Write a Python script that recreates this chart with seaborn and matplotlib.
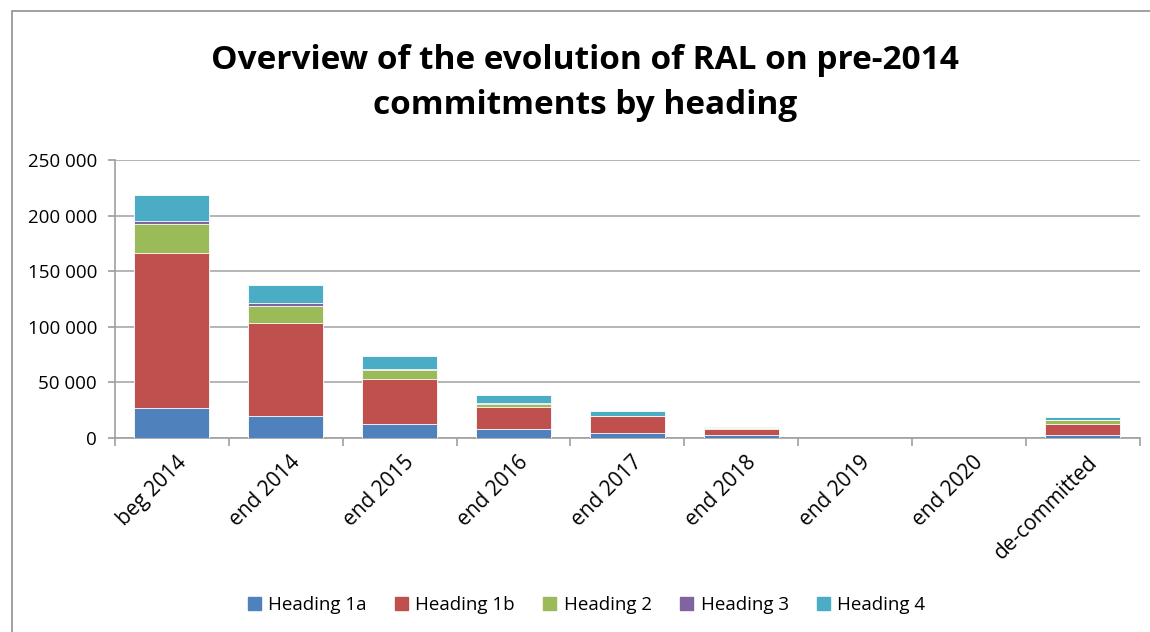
import matplotlib
matplotlib.use("Agg")
import matplotlib.pyplot as plt
import seaborn as sns
import pandas as pd
import numpy as np
from matplotlib.patches import Rectangle
from matplotlib.ticker import FuncFormatter, FixedLocator

categories = ["beg 2014", "end 2014", "end 2015", "end 2016", "end 2017",
              "end 2018", "end 2019", "end 2020", "de-committed"]
heading_1a = [27300, 19800, 12600, 7800, 4100, 2300, 0, 0, 2500]
heading_1b = [138700, 83500, 40200, 19800, 15400, 5800, 0, 0, 10500]
heading_2 = [26500, 15600, 8100, 3000, 500, 500, 0, 0, 3000]
heading_3 = [3000, 2100, 900, 400, 200, 100, 0, 0, 300]
heading_4 = [23100, 16800, 12300, 7400, 4100, 1500, 0, 0, 2500]

series_names = ["Heading 1a", "Heading 1b", "Heading 2", "Heading 3", "Heading 4"]
series_vals = [heading_1a, heading_1b, heading_2, heading_3, heading_4]
colors = ["#4F81BD", "#C0504D", "#9BBB59", "#8064A2", "#4BACC6"]

sns.set_theme(style="white")
plt.rcParams["font.family"] = ["Open Sans", "DejaVu Sans"]
plt.rcParams["text.color"] = "black"
plt.rcParams["xtick.color"] = "black"
plt.rcParams["ytick.color"] = "black"

fig = plt.figure(figsize=(11.5, 6.32), dpi=100)
ax = fig.add_axes([0.1, 0.307, 0.891, 0.44])

cum = np.cumsum(np.array(series_vals, dtype=float), axis=0)
cum[cum == 0] = np.nan
for i in range(len(series_names) - 1, -1, -1):
    df = pd.DataFrame({"cat": categories, "val": cum[i]})
    sns.barplot(data=df, x="cat", y="val", order=categories, color=colors[i],
                saturation=1, width=0.66, edgecolor="white", linewidth=0.6,
                ax=ax, zorder=3)

ax.set_xlim(-0.5, 8.5)
ax.set_ylim(0, 250000)
ax.set_yticks(np.arange(0, 250001, 50000))
ax.yaxis.set_major_formatter(FuncFormatter(lambda v, p: f"{int(v):,}".replace(",", " ")))
ax.grid(axis="y", color="#A8A8A8", linewidth=1.2, zorder=0)
ax.set_axisbelow(True)
ax.set_xlabel("")
ax.set_ylabel("")
for s in ["top", "right"]:
    ax.spines[s].set_visible(False)
for s in ["left", "bottom"]:
    ax.spines[s].set_color("#A0A0A0")
    ax.spines[s].set_linewidth(1.2)

ax.tick_params(axis="y", which="major", length=5, color="#A0A0A0", labelsize=13.5,
               left=True, pad=8, labelcolor="black")
ax.tick_params(axis="x", which="major", length=0, labelsize=15, pad=10, labelcolor="black")
ax.xaxis.set_minor_locator(FixedLocator(np.arange(-0.5, 9.0, 1.0)))
ax.tick_params(axis="x", which="minor", length=6, color="#A0A0A0", bottom=True, width=1.2)
ax.set_xticks(range(len(categories)))
ax.set_xticklabels(categories, rotation=45, ha="right", rotation_mode="anchor")
for lbl in ax.get_xticklabels():
    lbl.set_transform(lbl.get_transform() + matplotlib.transforms.ScaledTranslation(4/100, 0, fig.dpi_scale_trans))

fig.text(0.509, 0.905, "Overview of the evolution of RAL on pre-2014", ha="center",
         va="center", fontsize=24, fontweight="bold")
fig.text(0.509, 0.833, "commitments by heading", ha="center", va="center",
         fontsize=24, fontweight="bold")

handles = [Rectangle((0, 0), 1, 1, color=c) for c in colors]
fig.legend(handles, series_names, loc="center", bbox_to_anchor=(0.51, 0.042),
           ncol=5, frameon=False, fontsize=13.5, handlelength=0.7, handleheight=0.7,
           handletextpad=0.4, columnspacing=1.5)

fig.patches.append(Rectangle((12/1150, -0.1), 1.2, 1 - 11/632 + 0.1,
                             transform=fig.transFigure, fill=False,
                             edgecolor="#909090", linewidth=1.2))

fig.savefig("out.png", dpi=100)
